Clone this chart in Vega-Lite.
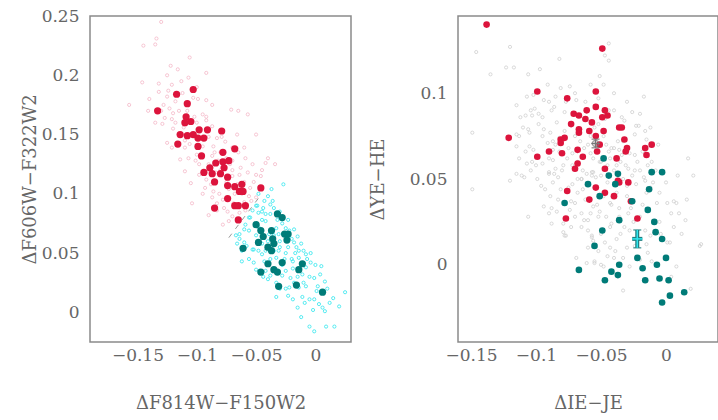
{
  "$schema": "https://vega.github.io/schema/vega-lite/v6.json",
  "background": "white",
  "padding": {"left": 20, "top": 6, "right": 0, "bottom": 0},
  "spacing": 16,
  "datasets": {
    "leftPink": [
      {"x":-0.130,"y":0.245},{"x":-0.134,"y":0.231},{"x":-0.135,"y":0.226},{"x":-0.145,"y":0.225},{"x":-0.106,"y":0.215},{"x":-0.122,"y":0.208},{"x":-0.116,"y":0.205},{"x":-0.092,"y":0.202},{"x":-0.146,"y":0.194},{"x":-0.132,"y":0.193},{"x":-0.121,"y":0.192},{"x":-0.132,"y":0.186},{"x":-0.124,"y":0.187},{"x":-0.125,"y":0.182},{"x":-0.099,"y":0.180},{"x":-0.092,"y":0.179},{"x":-0.157,"y":0.175},{"x":-0.141,"y":0.170},{"x":-0.128,"y":0.175},{"x":-0.120,"y":0.168},{"x":-0.127,"y":0.164},{"x":-0.121,"y":0.163},{"x":-0.129,"y":0.159},{"x":-0.071,"y":0.171},{"x":-0.065,"y":0.170},{"x":-0.057,"y":0.167},{"x":-0.092,"y":0.162},{"x":-0.087,"y":0.157},{"x":-0.079,"y":0.148},{"x":-0.066,"y":0.150},{"x":-0.050,"y":0.150},{"x":-0.060,"y":0.139},{"x":-0.076,"y":0.144},{"x":-0.125,"y":0.143},{"x":-0.110,"y":0.139},{"x":-0.107,"y":0.130},{"x":-0.101,"y":0.128},{"x":-0.087,"y":0.132},{"x":-0.070,"y":0.128},{"x":-0.059,"y":0.130},{"x":-0.053,"y":0.125},{"x":-0.042,"y":0.126},{"x":-0.034,"y":0.125},{"x":-0.050,"y":0.116},{"x":-0.057,"y":0.118},{"x":-0.064,"y":0.116},{"x":-0.105,"y":0.109},{"x":-0.093,"y":0.105},{"x":-0.104,"y":0.092},{"x":-0.081,"y":0.100},{"x":-0.054,"y":0.094},{"x":-0.073,"y":0.104},{"x":-0.087,"y":0.097},{"x":-0.098,"y":0.116},{"x":-0.110,"y":0.119},{"x":-0.114,"y":0.129},{"x":-0.121,"y":0.139},{"x":-0.111,"y":0.156},{"x":-0.103,"y":0.181},{"x":-0.095,"y":0.167},{"x":-0.083,"y":0.147},{"x":-0.070,"y":0.139},{"x":-0.063,"y":0.122},{"x":-0.084,"y":0.118},{"x":-0.090,"y":0.082},{"x":-0.078,"y":0.074},{"x":-0.073,"y":0.077},{"x":-0.064,"y":0.084},{"x":-0.070,"y":0.081},{"x":-0.059,"y":0.086},{"x":-0.083,"y":0.086},
      {"x":-0.095,"y":0.140},{"x":-0.090,"y":0.125},{"x":-0.085,"y":0.135},{"x":-0.080,"y":0.120},{"x":-0.075,"y":0.110},{"x":-0.070,"y":0.115},{"x":-0.105,"y":0.150},{"x":-0.100,"y":0.160},{"x":-0.115,"y":0.170},{"x":-0.110,"y":0.145},{"x":-0.088,"y":0.108},{"x":-0.078,"y":0.095},{"x":-0.068,"y":0.100},{"x":-0.060,"y":0.110},{"x":-0.095,"y":0.100},{"x":-0.120,"y":0.155},{"x":-0.135,"y":0.160},{"x":-0.140,"y":0.180},{"x":-0.125,"y":0.200},{"x":-0.113,"y":0.195},{"x":-0.100,"y":0.133},{"x":-0.093,"y":0.118},{"x":-0.082,"y":0.128},{"x":-0.072,"y":0.125},{"x":-0.065,"y":0.135},{"x":-0.055,"y":0.105},{"x":-0.050,"y":0.097},{"x":-0.060,"y":0.093},{"x":-0.083,"y":0.092},{"x":-0.092,"y":0.165},{"x":-0.087,"y":0.175},
      {"x":-0.118,"y":0.178},{"x":-0.112,"y":0.185},{"x":-0.108,"y":0.170},{"x":-0.102,"y":0.165},{"x":-0.097,"y":0.155},{"x":-0.090,"y":0.148},{"x":-0.086,"y":0.140},{"x":-0.080,"y":0.135},{"x":-0.075,"y":0.130},{"x":-0.070,"y":0.120},{"x":-0.066,"y":0.108},{"x":-0.062,"y":0.100},{"x":-0.056,"y":0.098},{"x":-0.052,"y":0.110},{"x":-0.046,"y":0.115},{"x":-0.045,"y":0.120},{"x":-0.040,"y":0.130},{"x":-0.130,"y":0.170},{"x":-0.123,"y":0.172},{"x":-0.118,"y":0.160},{"x":-0.115,"y":0.150},{"x":-0.106,"y":0.142},{"x":-0.098,"y":0.125},{"x":-0.092,"y":0.112},{"x":-0.086,"y":0.102},{"x":-0.077,"y":0.088},{"x":-0.074,"y":0.085},{"x":-0.069,"y":0.092},{"x":-0.107,"y":0.198},{"x":-0.100,"y":0.190}
    ],
    "leftCyan": [
      {"x":-0.027,"y":0.108},{"x":-0.037,"y":0.104},{"x":-0.040,"y":0.098},{"x":-0.048,"y":0.100},{"x":-0.043,"y":0.094},{"x":-0.038,"y":0.091},{"x":-0.049,"y":0.090},{"x":-0.053,"y":0.086},{"x":-0.048,"y":0.084},{"x":-0.042,"y":0.083},{"x":-0.038,"y":0.083},{"x":-0.056,"y":0.080},{"x":-0.045,"y":0.078},{"x":-0.042,"y":0.077},{"x":-0.059,"y":0.074},{"x":-0.033,"y":0.071},{"x":-0.025,"y":0.071},{"x":-0.056,"y":0.069},{"x":-0.064,"y":0.066},{"x":-0.039,"y":0.066},{"x":-0.022,"y":0.069},{"x":-0.031,"y":0.066},{"x":-0.018,"y":0.059},{"x":-0.053,"y":0.053},{"x":-0.048,"y":0.052},{"x":-0.031,"y":0.052},{"x":-0.016,"y":0.055},{"x":-0.014,"y":0.052},{"x":-0.008,"y":0.049},{"x":-0.062,"y":0.043},{"x":-0.052,"y":0.042},{"x":-0.043,"y":0.043},{"x":-0.033,"y":0.046},{"x":-0.026,"y":0.045},{"x":-0.019,"y":0.043},{"x":-0.014,"y":0.046},{"x":-0.007,"y":0.045},{"x":-0.004,"y":0.042},{"x":-0.008,"y":0.038},{"x":-0.019,"y":0.037},{"x":-0.025,"y":0.035},{"x":-0.042,"y":0.035},{"x":-0.038,"y":0.031},{"x":-0.028,"y":0.031},{"x":-0.021,"y":0.029},{"x":-0.011,"y":0.032},{"x":-0.001,"y":0.029},{"x":0.005,"y":0.039},{"x":-0.033,"y":0.025},{"x":-0.022,"y":0.021},{"x":-0.014,"y":0.021},{"x":-0.008,"y":0.022},{"x":0.001,"y":0.018},{"x":-0.011,"y":0.013},{"x":-0.005,"y":0.011},{"x":-0.001,"y":0.011},{"x":0.003,"y":0.007},{"x":-0.019,"y":0.011},{"x":-0.033,"y":0.013},{"x":-0.009,"y":0.008},{"x":0.006,"y":0.004},{"x":0.008,"y":0.001},{"x":-0.012,"y":-0.004},{"x":-0.005,"y":-0.012},{"x":0.009,"y":-0.012},{"x":0.016,"y":-0.012},{"x":0.025,"y":0.017},{"x":0.002,"y":0.022},{"x":-0.018,"y":0.025},{"x":-0.064,"y":0.062},{"x":-0.060,"y":0.059},{"x":-0.052,"y":0.053},{"x":-0.045,"y":0.049},{"x":-0.067,"y":0.065},{"x":-0.001,"y":-0.016},
      {"x":-0.040,"y":0.060},{"x":-0.035,"y":0.065},{"x":-0.045,"y":0.058},{"x":-0.030,"y":0.055},{"x":-0.025,"y":0.050},{"x":-0.038,"y":0.045},{"x":-0.028,"y":0.040},{"x":-0.020,"y":0.045},{"x":-0.050,"y":0.065},{"x":-0.055,"y":0.080},{"x":-0.045,"y":0.085},{"x":-0.032,"y":0.078},{"x":-0.015,"y":0.030},{"x":-0.010,"y":0.025},{"x":-0.005,"y":0.030},{"x":0.010,"y":0.020},{"x":-0.025,"y":0.020},{"x":-0.040,"y":0.028},{"x":-0.020,"y":0.062},{"x":-0.012,"y":0.058},{"x":0.015,"y":0.012},{"x":-0.060,"y":0.070},{"x":-0.048,"y":0.072},{"x":-0.035,"y":0.088},
      {"x":-0.050,"y":0.090},{"x":-0.044,"y":0.088},{"x":-0.036,"y":0.094},{"x":-0.030,"y":0.085},{"x":-0.028,"y":0.075},{"x":-0.023,"y":0.078},{"x":-0.018,"y":0.070},{"x":-0.015,"y":0.064},{"x":-0.010,"y":0.052},{"x":-0.004,"y":0.050},{"x":0.000,"y":0.040},{"x":0.004,"y":0.032},{"x":0.008,"y":0.026},{"x":0.012,"y":0.008},{"x":0.020,"y":0.005},{"x":-0.002,"y":0.002},{"x":-0.015,"y":0.004},{"x":-0.023,"y":0.014},{"x":-0.030,"y":0.020},{"x":-0.044,"y":0.030},{"x":-0.050,"y":0.036},{"x":-0.056,"y":0.045},{"x":-0.058,"y":0.056},{"x":-0.062,"y":0.052},{"x":-0.066,"y":0.058},{"x":-0.030,"y":0.060},{"x":-0.035,"y":0.052},{"x":-0.042,"y":0.052},{"x":-0.023,"y":0.055},{"x":-0.017,"y":0.050}
    ],
    "leftLine": [{"x":-0.073,"y":0.063},{"x":-0.046,"y":0.099}],
    "leftRed": [
      {"x":-0.133,"y":0.170},{"x":-0.117,"y":0.184},{"x":-0.103,"y":0.188},{"x":-0.108,"y":0.176},{"x":-0.109,"y":0.165},{"x":-0.105,"y":0.161},{"x":-0.110,"y":0.160},{"x":-0.114,"y":0.150},{"x":-0.108,"y":0.149},{"x":-0.116,"y":0.142},{"x":-0.103,"y":0.150},{"x":-0.098,"y":0.154},{"x":-0.091,"y":0.154},{"x":-0.099,"y":0.147},{"x":-0.094,"y":0.147},{"x":-0.099,"y":0.140},{"x":-0.079,"y":0.153},{"x":-0.096,"y":0.132},{"x":-0.078,"y":0.135},{"x":-0.068,"y":0.138},{"x":-0.073,"y":0.128},{"x":-0.084,"y":0.126},{"x":-0.078,"y":0.127},{"x":-0.089,"y":0.122},{"x":-0.094,"y":0.118},{"x":-0.077,"y":0.122},{"x":-0.080,"y":0.117},{"x":-0.087,"y":0.117},{"x":-0.074,"y":0.114},{"x":-0.085,"y":0.110},{"x":-0.074,"y":0.107},{"x":-0.068,"y":0.106},{"x":-0.062,"y":0.108},{"x":-0.064,"y":0.102},{"x":-0.061,"y":0.102},{"x":-0.046,"y":0.105},{"x":-0.074,"y":0.096},{"x":-0.068,"y":0.090},{"x":-0.065,"y":0.090},{"x":-0.059,"y":0.090},{"x":-0.085,"y":0.088},{"x":-0.065,"y":0.078}
    ],
    "leftTeal": [
      {"x":-0.032,"y":0.083},{"x":-0.028,"y":0.080},{"x":-0.050,"y":0.074},{"x":-0.046,"y":0.069},{"x":-0.037,"y":0.069},{"x":-0.026,"y":0.066},{"x":-0.023,"y":0.066},{"x":-0.044,"y":0.064},{"x":-0.036,"y":0.062},{"x":-0.048,"y":0.059},{"x":-0.024,"y":0.061},{"x":-0.040,"y":0.055},{"x":-0.037,"y":0.052},{"x":-0.035,"y":0.058},{"x":-0.061,"y":0.054},{"x":-0.040,"y":0.041},{"x":-0.028,"y":0.042},{"x":-0.011,"y":0.041},{"x":-0.046,"y":0.034},{"x":-0.035,"y":0.036},{"x":-0.032,"y":0.034},{"x":-0.014,"y":0.036},{"x":-0.016,"y":0.023},{"x":-0.031,"y":0.022},{"x":0.006,"y":0.017}
    ],
    "leftXTicks": [
      {"v":-0.18,"k":"minor"},{"v":-0.17,"k":"minor"},{"v":-0.16,"k":"minor"},{"v":-0.15,"k":"major"},{"v":-0.14,"k":"minor"},{"v":-0.13,"k":"minor"},{"v":-0.12,"k":"minor"},{"v":-0.11,"k":"minor"},{"v":-0.1,"k":"major"},{"v":-0.09,"k":"minor"},{"v":-0.08,"k":"minor"},{"v":-0.07,"k":"minor"},{"v":-0.06,"k":"minor"},{"v":-0.05,"k":"major"},{"v":-0.04,"k":"minor"},{"v":-0.03,"k":"minor"},{"v":-0.02,"k":"minor"},{"v":-0.01,"k":"minor"},{"v":0,"k":"major"},{"v":0.01,"k":"minor"},{"v":0.02,"k":"minor"}
    ],
    "leftYTicks": [
      {"v":-0.02,"k":"minor"},{"v":-0.01,"k":"minor"},{"v":0,"k":"major"},{"v":0.01,"k":"minor"},{"v":0.02,"k":"minor"},{"v":0.03,"k":"minor"},{"v":0.04,"k":"minor"},{"v":0.05,"k":"major"},{"v":0.06,"k":"minor"},{"v":0.07,"k":"minor"},{"v":0.08,"k":"minor"},{"v":0.09,"k":"minor"},{"v":0.1,"k":"major"},{"v":0.11,"k":"minor"},{"v":0.12,"k":"minor"},{"v":0.13,"k":"minor"},{"v":0.14,"k":"minor"},{"v":0.15,"k":"major"},{"v":0.16,"k":"minor"},{"v":0.17,"k":"minor"},{"v":0.18,"k":"minor"},{"v":0.19,"k":"minor"},{"v":0.2,"k":"major"},{"v":0.21,"k":"minor"},{"v":0.22,"k":"minor"},{"v":0.23,"k":"minor"},{"v":0.24,"k":"minor"}
    ],
    "rightGray": [
      {"x":-0.120,"y":0.127},{"x":-0.146,"y":0.124},{"x":-0.082,"y":0.120},{"x":-0.123,"y":0.115},{"x":-0.117,"y":0.115},{"x":-0.097,"y":0.114},{"x":-0.135,"y":0.111},{"x":-0.106,"y":0.111},{"x":-0.091,"y":0.105},{"x":-0.081,"y":0.103},{"x":-0.074,"y":0.104},{"x":-0.102,"y":0.099},{"x":-0.107,"y":0.098},{"x":-0.085,"y":0.098},{"x":-0.090,"y":0.095},{"x":-0.094,"y":0.096},{"x":-0.069,"y":0.096},{"x":-0.115,"y":0.093},{"x":-0.104,"y":0.090},{"x":-0.101,"y":0.091},{"x":-0.086,"y":0.092},{"x":-0.108,"y":0.087},{"x":-0.112,"y":0.086},{"x":-0.095,"y":0.086},{"x":-0.103,"y":0.087},{"x":-0.078,"y":0.089},{"x":-0.084,"y":0.083},{"x":-0.098,"y":0.082},{"x":-0.106,"y":0.079},{"x":-0.094,"y":0.079},{"x":-0.089,"y":0.077},{"x":-0.066,"y":0.079},{"x":-0.149,"y":0.077},{"x":-0.115,"y":0.076},{"x":-0.113,"y":0.075},{"x":-0.105,"y":0.077},{"x":-0.091,"y":0.071},{"x":-0.087,"y":0.072},{"x":-0.082,"y":0.074},{"x":-0.115,"y":0.069},{"x":-0.105,"y":0.069},{"x":-0.102,"y":0.067},{"x":-0.087,"y":0.067},{"x":-0.082,"y":0.066},{"x":-0.113,"y":0.062},{"x":-0.103,"y":0.060},{"x":-0.087,"y":0.061},{"x":-0.107,"y":0.059},{"x":-0.095,"y":0.059},{"x":-0.085,"y":0.056},{"x":-0.090,"y":0.054},{"x":-0.104,"y":0.055},{"x":-0.079,"y":0.058},{"x":-0.064,"y":0.055},{"x":-0.076,"y":0.062},
      {"x":-0.044,"y":0.129},{"x":-0.047,"y":0.122},{"x":-0.044,"y":0.119},{"x":-0.051,"y":0.110},{"x":-0.052,"y":0.097},{"x":-0.017,"y":0.098},{"x":-0.026,"y":0.089},{"x":-0.044,"y":0.090},{"x":-0.034,"y":0.086},{"x":-0.032,"y":0.084},{"x":-0.021,"y":0.081},{"x":-0.016,"y":0.078},{"x":-0.024,"y":0.076},{"x":-0.015,"y":0.073},{"x":-0.037,"y":0.072},{"x":-0.042,"y":0.068},{"x":-0.044,"y":0.066},{"x":-0.024,"y":0.064},{"x":-0.036,"y":0.067},{"x":-0.011,"y":0.060},{"x":-0.029,"y":0.056},{"x":-0.024,"y":0.055},{"x":0.017,"y":0.062},{"x":-0.056,"y":0.062},{"x":-0.051,"y":0.060},{"x":-0.057,"y":0.054},{"x":0.021,"y":0.052},{"x":0.009,"y":0.052},{"x":-0.023,"y":0.081},{"x":-0.017,"y":0.051},{"x":0.001,"y":0.036},{"x":0.006,"y":0.037},{"x":0.016,"y":0.038},
      {"x":-0.115,"y":0.053},{"x":-0.111,"y":0.052},{"x":-0.109,"y":0.051},{"x":-0.120,"y":0.049},{"x":-0.099,"y":0.050},{"x":-0.090,"y":0.053},{"x":-0.086,"y":0.053},{"x":-0.083,"y":0.051},{"x":-0.087,"y":0.048},{"x":-0.081,"y":0.044},{"x":-0.093,"y":0.044},{"x":-0.089,"y":0.040},{"x":-0.094,"y":0.034},{"x":-0.088,"y":0.033},{"x":-0.090,"y":0.030},{"x":-0.084,"y":0.031},{"x":-0.106,"y":0.028},{"x":-0.088,"y":0.024},{"x":-0.079,"y":0.024},{"x":-0.149,"y":0.044},{"x":-0.074,"y":0.032},{"x":-0.073,"y":0.022},{"x":-0.079,"y":0.019},{"x":-0.077,"y":0.017},{"x":-0.065,"y":0.022},{"x":-0.069,"y":0.004},{"x":-0.061,"y":0.001},{"x":-0.056,"y":0.014},{"x":-0.055,"y":0.001},{"x":-0.065,"y":0.030},{"x":-0.063,"y":0.026},{"x":-0.060,"y":0.020},{"x":-0.057,"y":0.017},{"x":-0.073,"y":0.037},{"x":-0.070,"y":0.036},{"x":-0.068,"y":0.042},{"x":-0.072,"y":0.047},{"x":-0.065,"y":0.050},{"x":-0.061,"y":0.053},
      {"x":-0.056,"y":0.054},{"x":-0.054,"y":0.051},{"x":-0.050,"y":0.052},{"x":-0.030,"y":0.046},{"x":-0.023,"y":0.047},{"x":-0.016,"y":0.049},{"x":-0.015,"y":0.042},{"x":-0.007,"y":0.036},{"x":0.008,"y":0.036},{"x":-0.056,"y":0.034},{"x":-0.051,"y":0.031},{"x":-0.043,"y":0.036},{"x":-0.036,"y":0.033},{"x":-0.029,"y":0.030},{"x":-0.060,"y":0.026},{"x":-0.046,"y":0.028},{"x":-0.042,"y":0.024},{"x":-0.032,"y":0.022},{"x":-0.016,"y":0.020},{"x":-0.012,"y":0.017},{"x":0.001,"y":0.013},{"x":0.003,"y":0.013},{"x":0.012,"y":0.018},{"x":0.015,"y":0.026},{"x":0.010,"y":0.030},{"x":0.026,"y":0.011},{"x":-0.057,"y":0.016},{"x":-0.047,"y":0.013},{"x":-0.039,"y":0.008},{"x":-0.033,"y":0.004},{"x":-0.048,"y":-0.001},{"x":-0.028,"y":-0.001},{"x":-0.014,"y":0.007},{"x":-0.011,"y":0.002},{"x":0.008,"y":-0.001},{"x":-0.033,"y":-0.015},{"x":0.019,"y":-0.014},{"x":0.004,"y":-0.007},{"x":-0.055,"y":0.002},{"x":-0.043,"y":0.010},{"x":-0.024,"y":0.011},{"x":-0.020,"y":0.003},{"x":-0.050,"y":0.000},{"x":0.027,"y":0.012},{"x":0.006,"y":0.022},{"x":-0.078,"y":0.017},
      {"x":-0.060,"y":0.070},{"x":-0.058,"y":0.065},{"x":-0.050,"y":0.060},{"x":-0.045,"y":0.058},{"x":-0.040,"y":0.055},{"x":-0.065,"y":0.050},{"x":-0.055,"y":0.045},{"x":-0.048,"y":0.040},{"x":-0.042,"y":0.035},{"x":-0.038,"y":0.042},{"x":-0.033,"y":0.050},{"x":-0.030,"y":0.040},{"x":-0.027,"y":0.033},{"x":-0.052,"y":0.028},{"x":-0.062,"y":0.038},{"x":-0.068,"y":0.060},{"x":-0.072,"y":0.065},{"x":-0.048,"y":0.075},{"x":-0.040,"y":0.068},{"x":-0.035,"y":0.060},{"x":-0.028,"y":0.065},{"x":-0.020,"y":0.055},{"x":-0.045,"y":0.048},{"x":-0.057,"y":0.052},{"x":-0.053,"y":0.035},{"x":-0.036,"y":0.028},{"x":-0.043,"y":0.022},{"x":-0.050,"y":0.018},{"x":-0.025,"y":0.025},{"x":-0.018,"y":0.035},{"x":-0.075,"y":0.045},{"x":-0.080,"y":0.055},{"x":-0.070,"y":0.075},{"x":-0.062,"y":0.085},{"x":-0.055,"y":0.080},{"x":-0.047,"y":0.085},{"x":-0.040,"y":0.090},{"x":-0.033,"y":0.072},{"x":-0.012,"y":0.045},{"x":-0.008,"y":0.055},{"x":-0.060,"y":0.010},{"x":-0.045,"y":0.005},{"x":-0.038,"y":0.015},{"x":-0.030,"y":0.010},{"x":-0.015,"y":0.012},{"x":-0.005,"y":0.025},
      {"x":-0.095,"y":0.075},{"x":-0.090,"y":0.062},{"x":-0.085,"y":0.070},{"x":-0.078,"y":0.078},{"x":-0.075,"y":0.068},{"x":-0.072,"y":0.058},{"x":-0.066,"y":0.072},{"x":-0.063,"y":0.068},{"x":-0.058,"y":0.075},{"x":-0.052,"y":0.082},{"x":-0.046,"y":0.070},{"x":-0.043,"y":0.062},{"x":-0.038,"y":0.058},{"x":-0.034,"y":0.064},{"x":-0.031,"y":0.058},{"x":-0.026,"y":0.052},{"x":-0.022,"y":0.060},{"x":-0.018,"y":0.066},{"x":-0.014,"y":0.058},{"x":-0.010,"y":0.048},{"x":-0.005,"y":0.042},{"x":0.000,"y":0.048},{"x":0.004,"y":0.030},{"x":-0.004,"y":0.018},{"x":-0.020,"y":0.028},{"x":-0.028,"y":0.020},{"x":-0.035,"y":0.018},{"x":-0.040,"y":0.004},{"x":-0.052,"y":0.008},{"x":-0.058,"y":0.030},{"x":-0.064,"y":0.044},{"x":-0.068,"y":0.050},{"x":-0.070,"y":0.028},{"x":-0.083,"y":0.038},{"x":-0.096,"y":0.046},{"x":-0.100,"y":0.058},{"x":-0.108,"y":0.066},{"x":-0.110,"y":0.080},{"x":-0.098,"y":0.088},{"x":-0.088,"y":0.090},{"x":-0.077,"y":0.095},{"x":-0.070,"y":0.100},{"x":-0.062,"y":0.095},{"x":-0.058,"y":0.105},{"x":-0.048,"y":0.105},{"x":-0.040,"y":0.100},{"x":-0.030,"y":0.095},{"x":-0.020,"y":0.088},{"x":-0.012,"y":0.080},{"x":-0.006,"y":0.070}
    ],
    "rightRed": [
      {"x":-0.138,"y":0.140},{"x":-0.049,"y":0.126},{"x":-0.099,"y":0.101},{"x":-0.054,"y":0.101},{"x":-0.076,"y":0.097},{"x":-0.054,"y":0.092},{"x":-0.047,"y":0.090},{"x":-0.061,"y":0.090},{"x":-0.071,"y":0.088},{"x":-0.067,"y":0.087},{"x":-0.045,"y":0.087},{"x":-0.049,"y":0.086},{"x":-0.062,"y":0.085},{"x":-0.057,"y":0.083},{"x":-0.073,"y":0.082},{"x":-0.036,"y":0.080},{"x":-0.034,"y":0.080},{"x":-0.067,"y":0.079},{"x":-0.067,"y":0.077},{"x":-0.059,"y":0.078},{"x":-0.048,"y":0.078},{"x":-0.121,"y":0.074},{"x":-0.081,"y":0.073},{"x":-0.078,"y":0.074},{"x":-0.081,"y":0.071},{"x":-0.054,"y":0.075},{"x":-0.032,"y":0.073},{"x":-0.051,"y":0.070},{"x":-0.016,"y":0.068},{"x":-0.011,"y":0.070},{"x":-0.030,"y":0.068},{"x":-0.031,"y":0.066},{"x":-0.068,"y":0.067},{"x":-0.090,"y":0.066},{"x":-0.099,"y":0.063},{"x":-0.080,"y":0.065},{"x":-0.064,"y":0.063},{"x":-0.053,"y":0.066},{"x":-0.015,"y":0.064},{"x":-0.038,"y":0.062},{"x":-0.068,"y":0.059},{"x":-0.070,"y":0.056},{"x":-0.047,"y":0.056},{"x":-0.037,"y":0.049},{"x":-0.036,"y":0.048},{"x":-0.029,"y":0.048},{"x":-0.054,"y":0.045},{"x":-0.076,"y":0.043},{"x":-0.047,"y":0.042},{"x":-0.059,"y":0.038},{"x":-0.040,"y":0.040},{"x":-0.027,"y":0.037},{"x":-0.077,"y":0.027},{"x":-0.022,"y":0.027}
    ],
    "rightTeal": [
      {"x":-0.048,"y":0.062},{"x":-0.060,"y":0.047},{"x":-0.044,"y":0.052},{"x":-0.037,"y":0.053},{"x":-0.039,"y":0.047},{"x":-0.011,"y":0.054},{"x":-0.003,"y":0.054},{"x":-0.013,"y":0.044},{"x":-0.051,"y":0.040},{"x":-0.078,"y":0.036},{"x":-0.026,"y":0.037},{"x":-0.014,"y":0.032},{"x":-0.036,"y":0.026},{"x":-0.009,"y":0.025},{"x":-0.049,"y":0.020},{"x":-0.008,"y":0.019},{"x":-0.003,"y":0.015},{"x":-0.055,"y":0.011},{"x":0.000,"y":0.004},{"x":-0.022,"y":0.004},{"x":-0.036,"y":0.000},{"x":-0.007,"y":0.000},{"x":-0.018,"y":-0.002},{"x":-0.042,"y":-0.004},{"x":-0.037,"y":-0.006},{"x":-0.047,"y":-0.009},{"x":-0.016,"y":-0.009},{"x":-0.005,"y":-0.008},{"x":0.002,"y":-0.009},{"x":0.014,"y":-0.016},{"x":0.003,"y":-0.018},{"x":-0.003,"y":-0.022},{"x":-0.067,"y":-0.003}
    ],
    "rightErr": [
      {"x":-0.0542,"y":0.0707,"xlo":-0.0575,"xhi":-0.0509,"ylo":0.0682,"yhi":0.0732,"kind":"gray"},
      {"x":-0.0221,"y":0.0151,"xlo":-0.0260,"xhi":-0.0182,"ylo":0.0099,"yhi":0.0203,"kind":"cyan"}
    ],
    "rightXTicks": [
      {"v":-0.15,"k":"major"},{"v":-0.14,"k":"minor"},{"v":-0.13,"k":"minor"},{"v":-0.12,"k":"minor"},{"v":-0.11,"k":"minor"},{"v":-0.1,"k":"major"},{"v":-0.09,"k":"minor"},{"v":-0.08,"k":"minor"},{"v":-0.07,"k":"minor"},{"v":-0.06,"k":"minor"},{"v":-0.05,"k":"major"},{"v":-0.04,"k":"minor"},{"v":-0.03,"k":"minor"},{"v":-0.02,"k":"minor"},{"v":-0.01,"k":"minor"},{"v":0,"k":"major"},{"v":0.01,"k":"minor"},{"v":0.02,"k":"minor"},{"v":0.03,"k":"minor"}
    ],
    "rightYTicks": [
      {"v":-0.04,"k":"minor"},{"v":-0.03,"k":"minor"},{"v":-0.02,"k":"minor"},{"v":-0.01,"k":"minor"},{"v":0,"k":"major"},{"v":0.01,"k":"minor"},{"v":0.02,"k":"minor"},{"v":0.03,"k":"minor"},{"v":0.04,"k":"minor"},{"v":0.05,"k":"major"},{"v":0.06,"k":"minor"},{"v":0.07,"k":"minor"},{"v":0.08,"k":"minor"},{"v":0.09,"k":"minor"},{"v":0.1,"k":"major"},{"v":0.11,"k":"minor"},{"v":0.12,"k":"minor"},{"v":0.13,"k":"minor"},{"v":0.14,"k":"minor"}
    ]
  },
  "hconcat": [
    {
      "width": 261,
      "height": 326,
      "encoding": {
        "x": {"field": "x", "type": "quantitative", "scale": {"domain": [-0.19, 0.03], "nice": false, "zero": false},
              "axis": {"orient": "bottom", "values": [-0.15, -0.1, -0.05, 0], "format": "~g", "labelPadding": 5, "title": "ΔF814W−F150W2", "titlePadding": 31}},
        "y": {"field": "y", "type": "quantitative", "scale": {"domain": [-0.025, 0.25], "nice": false, "zero": false},
              "axis": {"orient": "left", "values": [0, 0.05, 0.1, 0.15, 0.2, 0.25], "format": "~g", "labelPadding": 11, "title": "ΔF606W−F322W2", "titlePadding": 2}}
      },
      "layer": [
        {"data": {"name": "leftPink"}, "mark": {"type": "point", "filled": false, "size": 10, "strokeWidth": 0.8, "color": "#f4b8c8", "opacity": 1}},
        {"data": {"name": "leftCyan"}, "mark": {"type": "point", "filled": false, "size": 10, "strokeWidth": 0.8, "color": "#2ee6ee", "opacity": 1}},
        {"data": {"name": "leftLine"}, "mark": {"type": "line", "color": "#9a9a9a", "strokeWidth": 1, "strokeDash": [5, 6]}},
        {"data": {"name": "leftRed"}, "mark": {"type": "circle", "size": 52, "opacity": 1, "color": "#dc143c"}},
        {"data": {"name": "leftTeal"}, "mark": {"type": "circle", "size": 52, "opacity": 1, "color": "#007b78"}},
        {"data": {"name": "leftXTicks"}, "transform": [{"filter": "datum.k === 'major'"}], "mark": {"type": "rule", "color": "#666666", "strokeWidth": 1.6},
         "encoding": {"x": {"field": "v", "type": "quantitative"}, "y": {"datum": -0.025, "type": "quantitative"}, "y2": {"datum": -0.0149}}},
        {"data": {"name": "leftXTicks"}, "transform": [{"filter": "datum.k === 'minor'"}], "mark": {"type": "rule", "color": "#666666", "strokeWidth": 1.6},
         "encoding": {"x": {"field": "v", "type": "quantitative"}, "y": {"datum": -0.025, "type": "quantitative"}, "y2": {"datum": -0.0191}}},
        {"data": {"name": "leftXTicks"}, "transform": [{"filter": "datum.k === 'major'"}], "mark": {"type": "rule", "color": "#666666", "strokeWidth": 1.6},
         "encoding": {"x": {"field": "v", "type": "quantitative"}, "y": {"datum": 0.25, "type": "quantitative"}, "y2": {"datum": 0.2399}}},
        {"data": {"name": "leftXTicks"}, "transform": [{"filter": "datum.k === 'minor'"}], "mark": {"type": "rule", "color": "#666666", "strokeWidth": 1.6},
         "encoding": {"x": {"field": "v", "type": "quantitative"}, "y": {"datum": 0.25, "type": "quantitative"}, "y2": {"datum": 0.2441}}},
        {"data": {"name": "leftYTicks"}, "transform": [{"filter": "datum.k === 'major'"}], "mark": {"type": "rule", "color": "#666666", "strokeWidth": 1.6},
         "encoding": {"y": {"field": "v", "type": "quantitative"}, "x": {"datum": -0.19, "type": "quantitative"}, "x2": {"datum": -0.1799}}},
        {"data": {"name": "leftYTicks"}, "transform": [{"filter": "datum.k === 'minor'"}], "mark": {"type": "rule", "color": "#666666", "strokeWidth": 1.6},
         "encoding": {"y": {"field": "v", "type": "quantitative"}, "x": {"datum": -0.19, "type": "quantitative"}, "x2": {"datum": -0.1841}}},
        {"data": {"name": "leftYTicks"}, "transform": [{"filter": "datum.k === 'major'"}], "mark": {"type": "rule", "color": "#666666", "strokeWidth": 1.6},
         "encoding": {"y": {"field": "v", "type": "quantitative"}, "x": {"datum": 0.03, "type": "quantitative"}, "x2": {"datum": 0.0199}}},
        {"data": {"name": "leftYTicks"}, "transform": [{"filter": "datum.k === 'minor'"}], "mark": {"type": "rule", "color": "#666666", "strokeWidth": 1.6},
         "encoding": {"y": {"field": "v", "type": "quantitative"}, "x": {"datum": 0.03, "type": "quantitative"}, "x2": {"datum": 0.0241}}}
      ]
    },
    {
      "width": 260,
      "height": 326,
      "encoding": {
        "x": {"field": "x", "type": "quantitative", "scale": {"domain": [-0.16, 0.04], "nice": false, "zero": false},
              "axis": {"orient": "bottom", "values": [-0.15, -0.1, -0.05, 0], "format": "~g", "labelPadding": 5, "title": "ΔIE−JE", "titlePadding": 31}},
        "y": {"field": "y", "type": "quantitative", "scale": {"domain": [-0.045, 0.145], "nice": false, "zero": false},
              "axis": {"orient": "left", "values": [0, 0.05, 0.1], "format": "~g", "labelPadding": 11, "title": "ΔYE−HE", "titlePadding": 22}}
      },
      "layer": [
        {"data": {"name": "rightGray"}, "mark": {"type": "point", "filled": false, "size": 10, "strokeWidth": 0.8, "color": "#cfcfcf", "opacity": 1}},
        {"data": {"name": "rightRed"}, "mark": {"type": "circle", "size": 44, "opacity": 1, "color": "#dc143c"}},
        {"data": {"name": "rightTeal"}, "mark": {"type": "circle", "size": 44, "opacity": 1, "color": "#007b78"}},
        {
          "data": {"name": "rightErr"},
          "mark": {"type": "rule"},
          "encoding": {
            "x": {"field": "x", "type": "quantitative"},
            "y": {"field": "ylo", "type": "quantitative"},
            "y2": {"field": "yhi"},
            "color": {"field": "kind", "type": "nominal", "scale": {"domain": ["gray", "cyan"], "range": ["#777777", "#1f7f80"]}, "legend": null},
            "strokeWidth": {"field": "kind", "type": "nominal", "scale": {"domain": ["gray", "cyan"], "range": [1.5, 4]}, "legend": null}
          }
        },
        {
          "data": {"name": "rightErr"},
          "mark": {"type": "rule"},
          "encoding": {
            "x": {"field": "xlo", "type": "quantitative"},
            "x2": {"field": "xhi"},
            "y": {"field": "y", "type": "quantitative"},
            "color": {"field": "kind", "type": "nominal", "scale": {"domain": ["gray", "cyan"], "range": ["#777777", "#1f7f80"]}, "legend": null},
            "strokeWidth": {"field": "kind", "type": "nominal", "scale": {"domain": ["gray", "cyan"], "range": [1.5, 4]}, "legend": null}
          }
        },
        {
          "data": {"name": "rightErr"},
          "mark": {"type": "tick", "orient": "horizontal", "size": 8, "thickness": 1.5},
          "encoding": {
            "x": {"field": "x", "type": "quantitative"},
            "y": {"field": "ylo", "type": "quantitative"},
            "color": {"field": "kind", "type": "nominal", "scale": {"domain": ["gray", "cyan"], "range": ["#777777", "#1f7f80"]}, "legend": null}
          }
        },
        {
          "data": {"name": "rightErr"},
          "mark": {"type": "tick", "orient": "horizontal", "size": 8, "thickness": 1.5},
          "encoding": {
            "x": {"field": "x", "type": "quantitative"},
            "y": {"field": "yhi", "type": "quantitative"},
            "color": {"field": "kind", "type": "nominal", "scale": {"domain": ["gray", "cyan"], "range": ["#777777", "#1f7f80"]}, "legend": null}
          }
        },
        {
          "data": {"name": "rightErr"},
          "transform": [{"filter": "datum.kind === 'cyan'"}],
          "mark": {"type": "rule", "color": "#2ee6ee", "strokeWidth": 1.5},
          "encoding": {"x": {"field": "x", "type": "quantitative"}, "y": {"field": "ylo", "type": "quantitative"}, "y2": {"field": "yhi"}}
        },
        {
          "data": {"name": "rightErr"},
          "transform": [{"filter": "datum.kind === 'cyan'"}],
          "mark": {"type": "rule", "color": "#2ee6ee", "strokeWidth": 1.5},
          "encoding": {"x": {"field": "xlo", "type": "quantitative"}, "x2": {"field": "xhi"}, "y": {"field": "y", "type": "quantitative"}}
        },
        {
          "data": {"name": "rightErr"},
          "transform": [{"filter": "datum.kind === 'gray'"}],
          "mark": {"type": "point", "filled": false, "size": 40, "strokeWidth": 1.2, "color": "#777777"}
        },
        {"data": {"name": "rightXTicks"}, "transform": [{"filter": "datum.k === 'major'"}], "mark": {"type": "rule", "color": "#666666", "strokeWidth": 1.6},
         "encoding": {"x": {"field": "v", "type": "quantitative"}, "y": {"datum": -0.045, "type": "quantitative"}, "y2": {"datum": -0.038}}},
        {"data": {"name": "rightXTicks"}, "transform": [{"filter": "datum.k === 'minor'"}], "mark": {"type": "rule", "color": "#666666", "strokeWidth": 1.6},
         "encoding": {"x": {"field": "v", "type": "quantitative"}, "y": {"datum": -0.045, "type": "quantitative"}, "y2": {"datum": -0.0409}}},
        {"data": {"name": "rightXTicks"}, "transform": [{"filter": "datum.k === 'major'"}], "mark": {"type": "rule", "color": "#666666", "strokeWidth": 1.6},
         "encoding": {"x": {"field": "v", "type": "quantitative"}, "y": {"datum": 0.145, "type": "quantitative"}, "y2": {"datum": 0.138}}},
        {"data": {"name": "rightXTicks"}, "transform": [{"filter": "datum.k === 'minor'"}], "mark": {"type": "rule", "color": "#666666", "strokeWidth": 1.6},
         "encoding": {"x": {"field": "v", "type": "quantitative"}, "y": {"datum": 0.145, "type": "quantitative"}, "y2": {"datum": 0.1409}}},
        {"data": {"name": "rightYTicks"}, "transform": [{"filter": "datum.k === 'major'"}], "mark": {"type": "rule", "color": "#666666", "strokeWidth": 1.6},
         "encoding": {"y": {"field": "v", "type": "quantitative"}, "x": {"datum": -0.16, "type": "quantitative"}, "x2": {"datum": -0.1508}}},
        {"data": {"name": "rightYTicks"}, "transform": [{"filter": "datum.k === 'minor'"}], "mark": {"type": "rule", "color": "#666666", "strokeWidth": 1.6},
         "encoding": {"y": {"field": "v", "type": "quantitative"}, "x": {"datum": -0.16, "type": "quantitative"}, "x2": {"datum": -0.1546}}},
        {"data": {"name": "rightYTicks"}, "transform": [{"filter": "datum.k === 'major'"}], "mark": {"type": "rule", "color": "#666666", "strokeWidth": 1.6},
         "encoding": {"y": {"field": "v", "type": "quantitative"}, "x": {"datum": 0.04, "type": "quantitative"}, "x2": {"datum": 0.0308}}},
        {"data": {"name": "rightYTicks"}, "transform": [{"filter": "datum.k === 'minor'"}], "mark": {"type": "rule", "color": "#666666", "strokeWidth": 1.6},
         "encoding": {"y": {"field": "v", "type": "quantitative"}, "x": {"datum": 0.04, "type": "quantitative"}, "x2": {"datum": 0.0346}}}
      ]
    }
  ],
  "config": {
    "view": {"stroke": "#8a8a8a", "strokeWidth": 1.5},
    "axis": {
      "domain": false,
      "ticks": false,
      "grid": false,
      "labelFont": "DejaVu Serif",
      "labelFontSize": 17,
      "labelColor": "#666666",
      "titleFont": "DejaVu Serif",
      "titleFontSize": 18,
      "titleFontWeight": "normal",
      "titleColor": "#666666"
    }
  }
}
